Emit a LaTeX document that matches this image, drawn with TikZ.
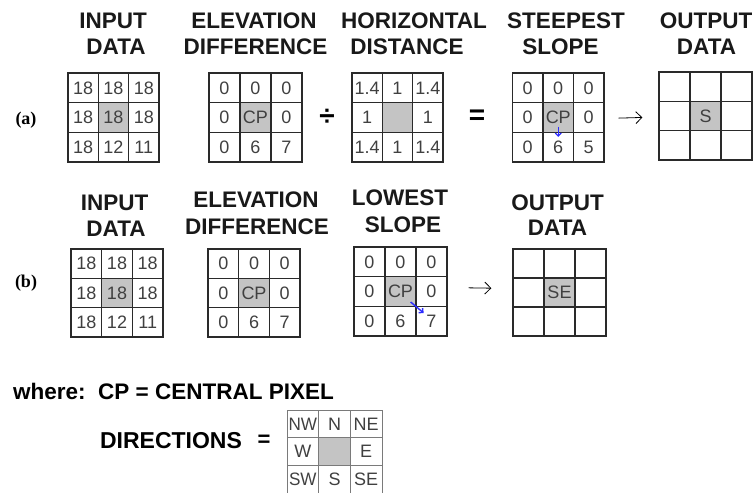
\documentclass[tikz,border=0pt]{standalone}
\usepackage{fontspec}
\setmainfont{Liberation Sans}
\newfontfamily\lblserif{Liberation Serif}
\usetikzlibrary{arrows.meta,calc}
\definecolor{cpgray}{HTML}{C4C4C4}
\definecolor{linecol}{HTML}{2A2A2A}
\definecolor{numcol}{HTML}{404040}
\definecolor{dircol}{HTML}{7A7A7A}
\definecolor{arrblue}{HTML}{2B2BFF}
\newcommand\ttlfont{\fontsize{22.5}{26}\selectfont\bfseries}
\newcommand\cellfont{\fontsize{18}{20}\selectfont}
\newcommand\dirfont{\fontsize{18}{20}\selectfont}
\newcommand\mkgrid[7]{% #1 name #2 left #3 top #4 cellw #5 cellh #6 style #7 entries
  \foreach \t [count=\i from 0] in {#7} {
    \pgfmathtruncatemacro\gr{int(\i/3)}
    \pgfmathtruncatemacro\gc{mod(\i,3)}
    \node[#6, minimum width=#4pt, minimum height=#5pt, ctr=\i]
      (#1-\gr\gc) at ({#2+(\gc+0.5)*#4},{#3+(\gr+0.5)*#5}) {\t};
  }}
\tikzset{
  ctr/.code={\ifnum#1=4 \pgfkeysalso{fill=cpgray}\fi},
  cell/.style={draw=linecol, line width=1.3pt, inner sep=0pt, font=\cellfont, text=numcol},
  dircell/.style={draw=dircol, line width=1pt, inner sep=0pt, font=\dirfont, text=numcol},
  ttl/.style={anchor=base, inner sep=0pt, font=\ttlfont, text=black!90},
  rowlbl/.style={inner sep=0pt, font=\lblserif\fontsize{18}{20}\selectfont\bfseries},
  conn/.style={line width=0.8pt, -{Straight Barb[length=6pt,width=12pt,line width=0.8pt]}},
  bluearr/.style={arrblue, line width=1.4pt, -{Straight Barb[length=3pt,width=6pt]}},
  opsym/.style={inner sep=0pt, font=\fontsize{28}{30}\selectfont\bfseries}
}
\begin{document}
\begin{tikzpicture}[x=1pt,y=-1pt]
\useasboundingbox (0,0) rectangle (756,493);
% ---------- row (a) ----------
\node[ttl] (ta1a) at (113,28) {INPUT};
\node[ttl] (ta1b) at (116,54) {DATA};
\node[ttl] (ta2a) at (254,28) {ELEVATION};
\node[ttl] (ta2b) at (255.5,54) {DIFFERENCE};
\node[ttl] (ta3a) at (414,28) {HORIZONTAL};
\node[ttl] (ta3b) at (407,54) {DISTANCE};
\node[ttl] (ta4a) at (566,28) {STEEPEST};
\node[ttl] (ta4b) at (560.5,54) {SLOPE};
\node[ttl] (ta5a) at (706,28) {OUTPUT};
\node[ttl] (ta5b) at (706.5,54) {DATA};
\node[rowlbl] (la) at (26,120) {(a)};
\mkgrid{ina}{68}{73}{30.33}{29.67}{cell}{18,18,18,18,18,18,18,12,11}
\mkgrid{ela}{209}{73}{31}{29.67}{cell}{0,0,0,0,CP,0,0,6,7}
\mkgrid{hda}{352}{73}{30.33}{29.67}{cell}{1.4,1,1.4,1,{},1,1.4,1,1.4}
\mkgrid{stp}{512.5}{73}{30.5}{29.67}{cell}{0,0,0,0,CP,0,0,6,5}
\mkgrid{outa}{659}{72}{31}{29.33}{cell}{{},{},{},{},S,{},{},{},{}}
\node[opsym] (div) at (327,117) {÷};
\node[opsym] (eqa) at (477,117) {=};
\draw[conn, shorten <=14pt, shorten >=16pt] ([yshift=-1pt]stp-12.east) -- ([yshift=-1pt]outa-10.west);
\draw[bluearr] ($(stp-11.south)+(0,-6)$) -- ($(stp-11.south)+(0,4)$);
% ---------- row (b) ----------
\node[ttl] (tb1a) at (114.5,210) {INPUT};
\node[ttl] (tb1b) at (116,236) {DATA};
\node[ttl] (tb2a) at (256,207) {ELEVATION};
\node[ttl] (tb2b) at (257,234) {DIFFERENCE};
\node[ttl] (tb3a) at (400,205) {LOWEST};
\node[ttl] (tb3b) at (403,232) {SLOPE};
\node[ttl] (tb4a) at (557.5,210) {OUTPUT};
\node[ttl] (tb4b) at (557.5,235) {DATA};
\node[rowlbl] (lb) at (26,283) {(b)};
\mkgrid{inb}{71}{249}{30.67}{29.33}{cell}{18,18,18,18,18,18,18,12,11}
\mkgrid{elb}{208}{249}{30.67}{29.33}{cell}{0,0,0,0,CP,0,0,6,7}
\mkgrid{low}{354}{247}{31}{29.67}{cell}{0,0,0,0,CP,0,0,6,7}
\mkgrid{outb}{513}{249}{31}{29}{cell}{{},{},{},{},SE,{},{},{},{}}
\draw[conn, shorten <=21pt, shorten >=21pt] ([yshift=4pt]low-12.east) -- ([yshift=4pt]outb-10.west);
\draw[bluearr] ($(low-11.south east)+(-6,-5)$) -- ($(low-11.south east)+(7,6)$);
% ---------- legend ----------
\node[anchor=base west, inner sep=0pt, font=\ttlfont] (where) at (13,399) {where:\ \ CP = CENTRAL PIXEL};
\node[inner sep=0pt, font=\fontsize{23}{26}\selectfont\bfseries] (dirl) at (171,441) {DIRECTIONS};
\node[inner sep=0pt, font=\fontsize{22}{26}\selectfont\bfseries] (direq) at (264,441) {=};
\mkgrid{dir}{287}{410}{31.67}{27.67}{dircell}{\scalebox{0.95}[1]{NW},N,NE,W,{},E,\scalebox{0.95}[1]{SW},S,SE}
\end{tikzpicture}
\end{document}
